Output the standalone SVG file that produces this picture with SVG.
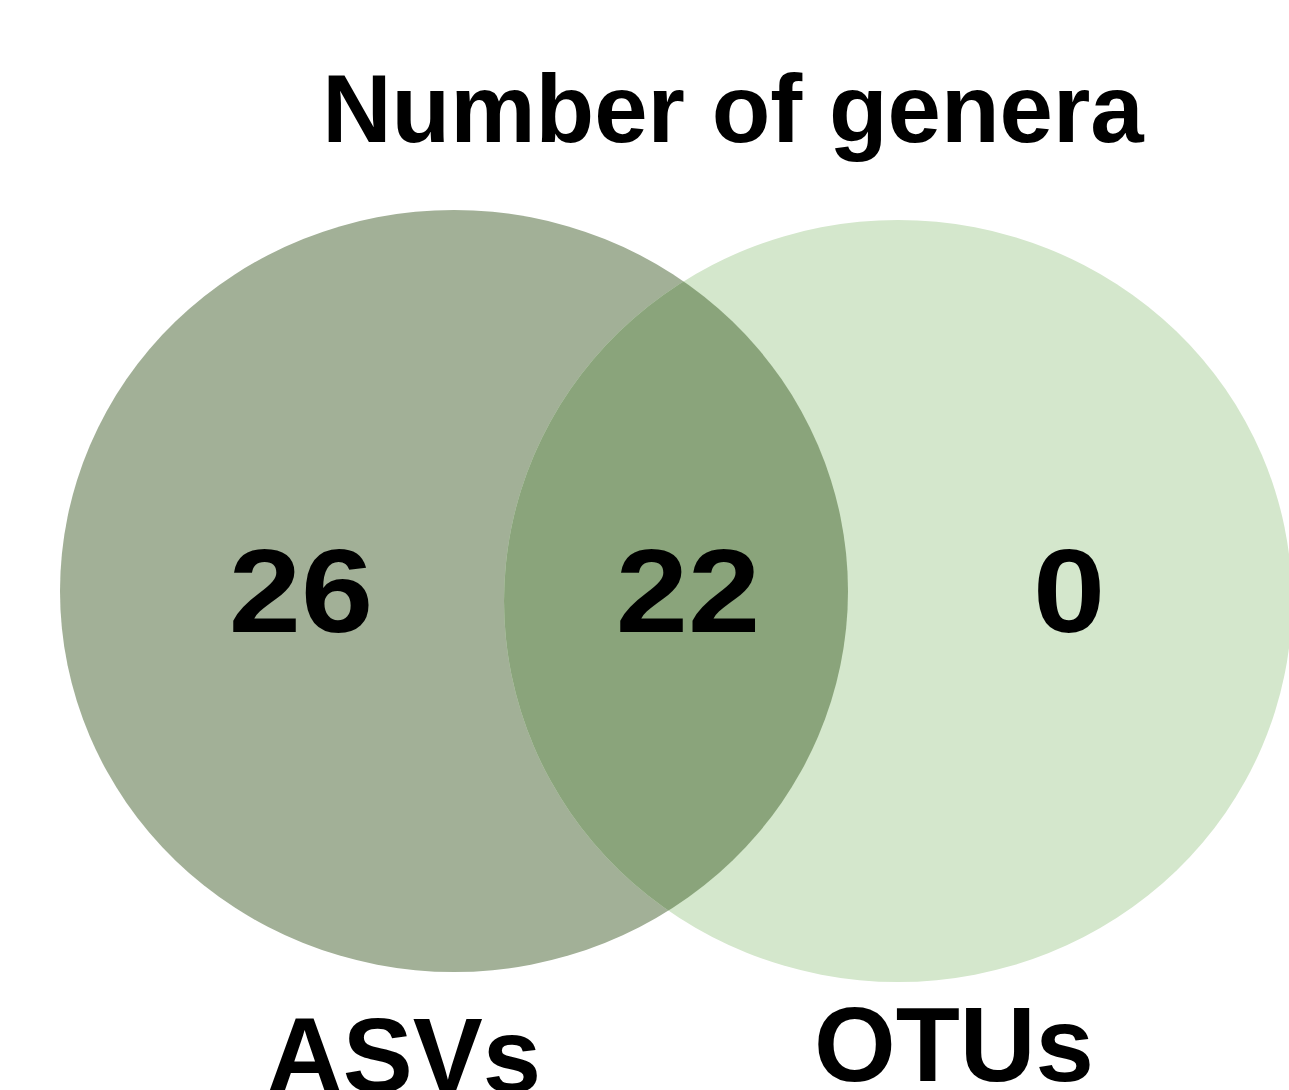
<svg xmlns="http://www.w3.org/2000/svg" width="1289" height="1090" viewBox="0 0 1289 1090">
  <style>
    text { font-family: "Liberation Sans", Arial, sans-serif; font-weight: bold; fill: #000; text-anchor: middle; }
    .title { font-size: 96px; }
    .num { font-size: 118px; }
    .set { font-size: 105px; }
  </style>
  <defs>
    <clipPath id="clipRight">
      <ellipse cx="898" cy="601" rx="394" ry="381"/>
    </clipPath>
  </defs>
  <rect width="1289" height="1090" fill="#ffffff"/>
  <text class="title" x="733" y="142">Number of genera</text>
  <g id="set-asvs">
    <ellipse cx="454" cy="591" rx="394" ry="381" fill="#a2b097"/>
  </g>
  <g id="set-otus">
    <ellipse cx="898" cy="601" rx="394" ry="381" fill="#d4e7cc"/>
  </g>
  <g id="intersection">
    <ellipse cx="454" cy="591" rx="394" ry="381" fill="#8aa47b" clip-path="url(#clipRight)"/>
  </g>
  <g id="connectors"></g>
  <g id="counts">
    <text class="num" transform="translate(301 632) scale(1.1 1)">26</text>
    <text class="num" transform="translate(688 632) scale(1.1 1)">22</text>
    <text class="num" transform="translate(1069 632) scale(1.1 1)">0</text>
  </g>
  <g id="labels">
    <text class="set" x="404" y="1092">ASVs</text>
    <text class="set" x="954" y="1081">OTUs</text>
  </g>
</svg>
